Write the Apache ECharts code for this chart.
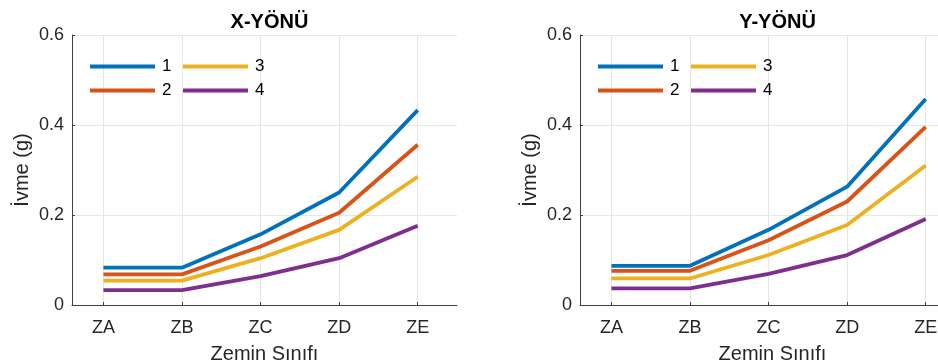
<!DOCTYPE html>
<html>
<head>
<meta charset="utf-8">
<script src="https://cdn.jsdelivr.net/npm/echarts@6/dist/echarts.min.js"></script>
<style>
  html, body { margin: 0; padding: 0; background: #ffffff; }
  #chart { width: 938px; height: 364px; }
</style>
</head>
<body>
<div id="chart"></div>
<script>
// Soil classes along the horizontal axis
const categories = ['ZA', 'ZB', 'ZC', 'ZD', 'ZE'];
const seriesNames = ['1', '2', '3', '4'];
const panelTitles = ['X-YÖNÜ', 'Y-YÖNÜ'];
const yTicks = [0, 0.2, 0.4, 0.6];

// Acceleration (g), X direction
const xDir1 = [0.083, 0.083, 0.157, 0.250, 0.433];
const xDir2 = [0.068, 0.068, 0.130, 0.205, 0.356];
const xDir3 = [0.054, 0.054, 0.104, 0.167, 0.285];
const xDir4 = [0.033, 0.033, 0.064, 0.104, 0.176];

// Acceleration (g), Y direction
const yDir1 = [0.087, 0.087, 0.167, 0.263, 0.458];
const yDir2 = [0.076, 0.076, 0.144, 0.230, 0.396];
const yDir3 = [0.059, 0.059, 0.111, 0.178, 0.310];
const yDir4 = [0.037, 0.037, 0.069, 0.111, 0.191];

const colors = ['#0072BD', '#D95319', '#EDB120', '#7E2F8E'];
const FONT = '"Liberation Sans", Arial, Helvetica, sans-serif';
const TEXT = '#262626';

const panels = [
  { left: 72, data: [xDir1, xDir2, xDir3, xDir4] },
  { left: 580, data: [yDir1, yDir2, yDir3, yDir4] }
];

const catPos = categories.map((c, i) => i + 1);

// The second panel runs past the right edge of the canvas, so bounds are not enforced
const grid = panels.map(p => ({
  left: p.left, top: 35, width: 385, height: 270,
  containLabel: false, outerBoundsMode: 'none'
}));

const xAxis = panels.map((p, k) => ({
  type: 'value',
  gridIndex: k,
  min: 0.6,
  max: 5.5,
  name: 'Zemin Sınıfı',
  nameLocation: 'middle',
  nameGap: 39,
  nameTextStyle: { fontFamily: FONT, fontSize: 20, color: TEXT, verticalAlign: 'top' },
  axisLine: { show: true, onZero: false, lineStyle: { color: '#404040', width: 1 } },
  axisTick: { show: true, inside: true, length: 3, customValues: catPos, lineStyle: { color: '#404040' } },
  axisLabel: {
    customValues: catPos,
    fontFamily: FONT, fontSize: 18, color: TEXT, margin: 14,
    formatter: v => categories[Math.round(v) - 1] || ''
  },
  splitLine: { show: true, customValues: catPos, lineStyle: { color: '#e6e6e6', width: 1 } }
}));

const yAxis = panels.map((p, k) => ({
  type: 'value',
  gridIndex: k,
  min: yTicks[0],
  max: yTicks[yTicks.length - 1],
  interval: 0.2,
  name: 'İvme (g)',
  nameLocation: 'middle',
  nameGap: 40,
  nameTextStyle: { fontFamily: FONT, fontSize: 20, color: TEXT },
  axisLine: { show: true, lineStyle: { color: '#404040', width: 1 } },
  axisTick: { show: true, inside: true, length: 3, lineStyle: { color: '#404040' } },
  axisLabel: { fontFamily: FONT, fontSize: 18, color: TEXT, margin: 8, formatter: v => String(+v.toFixed(1)) },
  splitLine: { show: true, lineStyle: { color: '#e6e6e6', width: 1 } }
}));

const series = [];
panels.forEach((p, k) => {
  p.data.forEach((vals, i) => {
    series.push({
      type: 'line',
      name: seriesNames[i],
      xAxisIndex: k,
      yAxisIndex: k,
      data: vals.map((v, j) => [catPos[j], v]),
      symbol: 'none',
      lineStyle: { width: 3.8, color: colors[i] },
      itemStyle: { color: colors[i] },
      emphasis: { disabled: true },
      z: 3
    });
  });
});

// Two-column legend inside each panel: (1,3) on the first row, (2,4) on the second
const legendIcon = 'path://M0,0H65V4H0Z';
const legend = [];
panels.forEach((p, k) => {
  const colX = [p.left + 18, p.left + 111];
  [[0, 2], [1, 3]].forEach((row, r) => {
    row.forEach((si, c) => {
      legend.push({
        data: [seriesNames[si]],
        left: colX[c],
        top: 58 + r * 24,
        orient: 'horizontal',
        icon: legendIcon,
        itemWidth: 65,
        itemHeight: 14,
        itemGap: 0,
        padding: 0,
        selectedMode: false,
        textStyle: { fontFamily: FONT, fontSize: 17, color: '#000000', padding: [0, 0, 0, 2] }
      });
    });
  });
});

const title = panels.map((p, k) => ({
  text: panelTitles[k],
  left: p.left + 192.5,
  top: 7,
  textAlign: 'center',
  textStyle: { fontFamily: FONT, fontSize: 20, fontWeight: 'bold', color: '#000000' }
}));

const chart = echarts.init(document.getElementById('chart'), null, { renderer: 'canvas' });
chart.setOption({
  animation: false,
  backgroundColor: '#ffffff',
  title,
  legend,
  grid,
  xAxis,
  yAxis,
  series
});
</script>
</body>
</html>
